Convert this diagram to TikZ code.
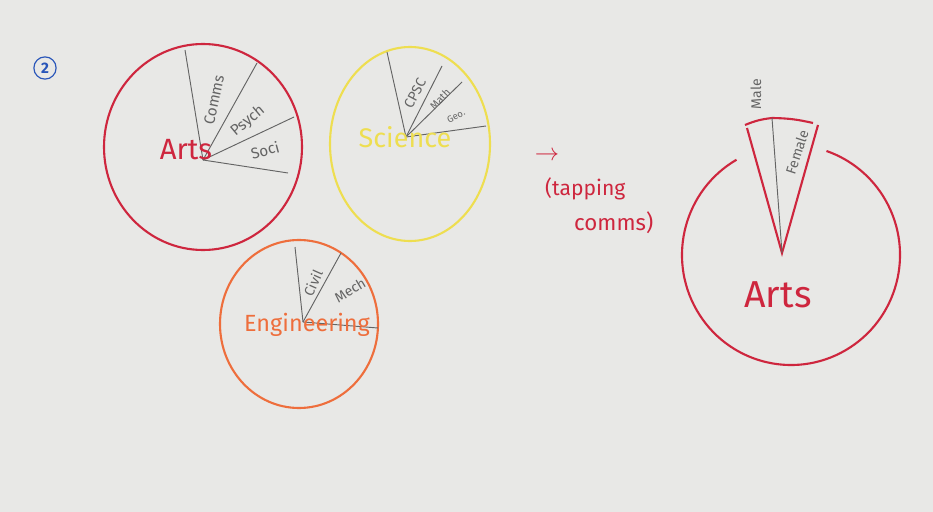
\documentclass[tikz,border=0pt]{standalone}
\usepackage{fontspec}
\setmainfont{Fira Sans}
\usetikzlibrary{calc}
\definecolor{paper}{RGB}{232,232,230}
\definecolor{penred}{RGB}{206,38,62}
\definecolor{penyellow}{RGB}{238,222,80}
\definecolor{penorange}{RGB}{238,110,60}
\definecolor{pengray}{RGB}{100,100,100}
\definecolor{penblue}{RGB}{40,85,185}
\tikzset{%
  rim/.style={line width=1.8pt},
  slice/.style={draw=pengray, line width=0.8pt},
  tag/.style={text=pengray, inner sep=0pt, font=\fontsize{12}{12}\selectfont},
  title/.style={inner sep=0pt, font=\fontsize{#1}{#1}\selectfont},
}

\begin{document}
\begin{tikzpicture}[x=0.03cm, y=-0.03cm]
    \fill[paper] (0,0) rectangle (933,512);
    \useasboundingbox (0,0) rectangle (933,512);

    %number
    \node[draw=penblue, circle, line width=1pt, minimum size=19pt, inner sep=0pt,
          text=penblue, font=\bfseries\fontsize{13}{13}\selectfont] (num) at (45,68) {2};

    %arts pie
    \coordinate (AC) at (203,147);
    \coordinate (AV) at (203,160);
    \coordinate (A1) at (185,50);
    \coordinate (A2) at (257,63);
    \coordinate (A3) at (294,117);
    \coordinate (A4) at (288,173);
    \draw[rim, penred] (AC) ellipse[x radius=99, y radius=103];
    \foreach \p in {A1,A2,A3,A4} \draw[slice] (AV) -- (\p);
    \node[title=25, text=penred] (arts) at (186,150) {Arts};
    \node[tag, rotate=78, font=\fontsize{13}{13}\selectfont] (comms) at (214,100) {Comms};
    \node[tag, rotate=40, font=\fontsize{13}{13}\selectfont] (psych) at (248,121) {Psych};
    \node[tag, rotate=15, font=\fontsize{13}{13}\selectfont] (soci) at (265,150) {Soci};

    %science pie
    \coordinate (SC) at (410,144);
    \coordinate (SV) at (406,137);
    \coordinate (S1) at (387,52);
    \coordinate (S2) at (442,66);
    \coordinate (S3) at (462,82);
    \coordinate (S4) at (486,126);
    \draw[rim, penyellow] (SC) ellipse[x radius=80, y radius=97];
    \foreach \p in {S1,S2,S3,S4} \draw[slice] (SV) -- (\p);
    \node[title=23, text=penyellow] (science) at (405,137) {Science};
    \node[tag, rotate=62] (cpsc) at (415,93) {CPSC};
    \node[tag, rotate=47, font=\fontsize{9}{9}\selectfont] (math) at (440,99) {Math};
    \node[tag, rotate=27, font=\fontsize{8}{8}\selectfont] (geo) at (456,116) {Geo.};

    %engineering pie
    \coordinate (EC) at (299,324);
    \coordinate (EV) at (303,322);
    \coordinate (E1) at (295,247);
    \coordinate (E2) at (341,253);
    \coordinate (E3) at (378,328);
    \draw[rim, penorange] (EC) ellipse[x radius=79, y radius=84];
    \foreach \p in {E1,E2,E3} \draw[slice] (EV) -- (\p);
    \node[title=20, text=penorange] (eng) at (307,325) {Engineering};
    \node[tag, rotate=66] (civil) at (313,283) {Civil};
    \node[tag, rotate=31] (mech) at (350,290) {Mech};

    %tapping comms
    \node[title=20, text=penred] (arrow) at (547,156) {$\rightarrow$};
    \node[title=18, text=penred, anchor=west] (tap) at (545,189) {(tapping};
    \node[title=19, text=penred, anchor=west] (comms2) at (574,223) {comms)};

    %arts with the comms slice pulled out
    \coordinate (RC) at (791,255);
    \coordinate (RV) at (782,253);
    \coordinate (RL) at (747,128);
    \coordinate (RR) at (818,125);
    \coordinate (RT) at (772,118);
    \draw[rim, penred] (RC) ++(-120:109 and 110)
        arc[start angle=-120, end angle=-431, x radius=109, y radius=110];
    \draw[rim, penred] (RL) -- (RV) -- (RR);
    \draw[rim, penred] (745,125) to[bend left=8] (RT) to[bend left=6] (813,123);
    \draw[slice] (RV) -- (RT);
    \node[tag, rotate=90] (male) at (756,94) {Male};
    \node[tag, rotate=72] (female) at (797,152) {Female};
    \node[title=32, text=penred] (arts2) at (778,295) {Arts};
\end{tikzpicture}
\end{document}
